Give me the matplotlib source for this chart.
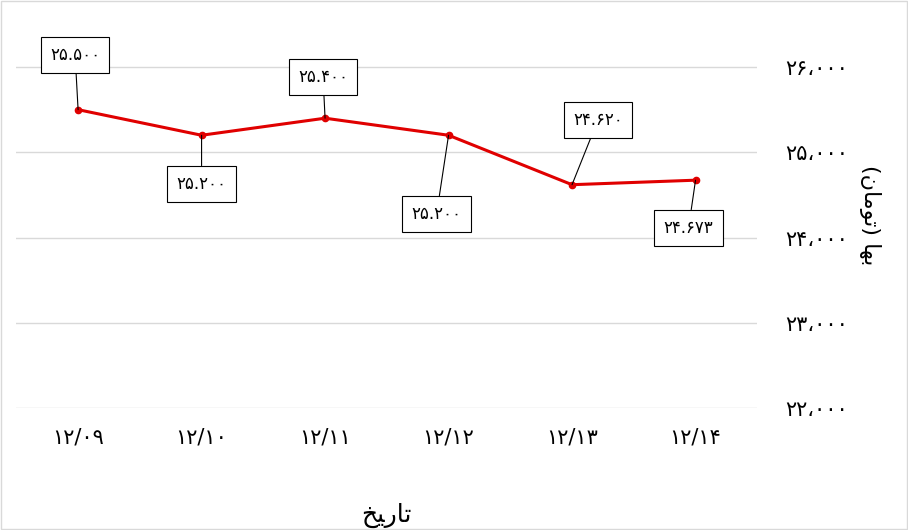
import matplotlib
matplotlib.use('Agg')
import matplotlib.pyplot as plt

plt.rcParams['font.family'] = ['DejaVu Sans']

dates = ['12/09', '12/10', '12/11', '12/12', '12/13', '12/14']
prices = [25500, 25200, 25400, 25200, 24620, 24673]
# offsets of the value boxes, in pixels
offsets = [(-3, 55), (0, -49), (-2, 41), (-12, -79), (26, 65), (-7, -48)]
yticks = [22000, 23000, 24000, 25000, 26000]

fa_digits = str.maketrans('0123456789', '۰۱۲۳۴۵۶۷۸۹')

def fa(s):
    return s.translate(fa_digits)

# pre-shaped glyphs (visual order) since matplotlib does no arabic shaping
xlabel_txt = '\uFEA6\uFEF4\uFEAD\uFE8E\uFE97'
ylabel_txt = '(\uFEE5\uFE8E\uFEE3\uFEEE\uFE97) \uFE8E\uFEEC\uFE91'

fig = plt.figure(figsize=(9.08, 5.30), dpi=100)
ax = fig.add_axes([0.018, 0.230, 0.816, 0.732])
x = list(range(len(dates)))
ax.plot(x, prices, color='#e00000', lw=2.2, marker='o', ms=4.5)
ax.set_xlim(-0.5, len(dates) - 0.5)
ax.set_ylim(22000, 26550)
ax.set_yticks(yticks)
ax.set_yticklabels([fa(f'{v // 1000}\u060C000') for v in yticks], fontsize=15)
ax.yaxis.tick_right()
ax.set_xticks(x)
ax.set_xticklabels([fa(d) for d in dates], fontsize=15)
ax.tick_params(length=0, pad=14)
ax.tick_params(axis='y', pad=20)
ax.grid(axis='y', color='#d9d9d9', lw=1)
for s in ax.spines.values():
    s.set_visible(False)

for i, (v, off) in enumerate(zip(prices, offsets)):
    lbl = fa(f'{v // 1000}.{v % 1000:03d}')
    ax.annotate(lbl, (i, v), xytext=off, textcoords='offset pixels',
                ha='center', va='center', fontsize=12,
                bbox=dict(boxstyle='square,pad=0.55', fc='white', ec='black', lw=0.8),
                arrowprops=dict(arrowstyle='-', color='black', lw=0.8, shrinkA=0, shrinkB=0))

ax.set_xlabel(xlabel_txt, fontsize=18, labelpad=40)
fig.text(0.958, 0.595, ylabel_txt, rotation=270, fontsize=16, ha='center', va='center')

fig.patches.append(plt.Rectangle((0.001, 0.001), 0.998, 0.997, transform=fig.transFigure,
                                 fill=False, ec='#d9d9d9', lw=1))
fig.savefig('out.png', dpi=100)
